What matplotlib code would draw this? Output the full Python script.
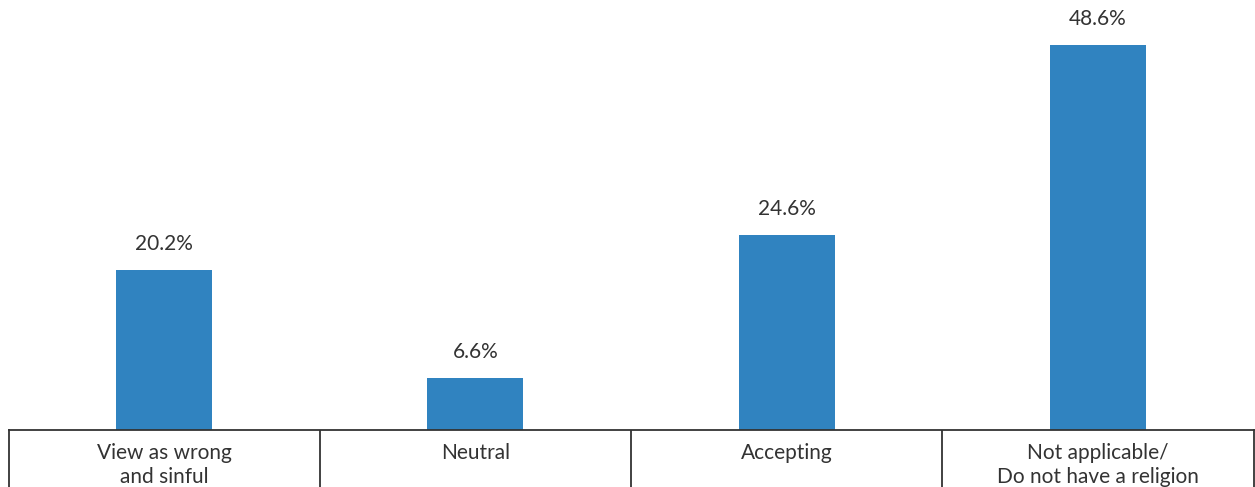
import matplotlib.pyplot as plt
import numpy as np

categories = ['View as wrong\nand sinful', 'Neutral', 'Accepting', 'Not applicable/\nDo not have a religion']
values = [20.2, 6.6, 24.6, 48.6]
value_labels = ['20.2%', '6.6%', '24.6%', '48.6%']

W, H = 1255, 487
bar_color = '#3083C0'
text_color = '#333333'
line_color = '#333333'

plt.rcParams['font.family'] = ['Lato', 'DejaVu Sans']

fig = plt.figure(figsize=(W / 100, H / 100), dpi=100)

# main bar area: x 8..1253 px, y 0..430 px from top
left, width = 8.5 / W, 1245 / W
ax = fig.add_axes([left, (H - 430) / H, width, 430 / H])
x = np.arange(len(categories))
ax.bar(x, values, width=0.309, color=bar_color)
for xi, v, lab in zip(x, values, value_labels):
    ax.annotate(lab, (xi, v), xytext=(0, 14.4), textcoords='offset points',
                ha='center', va='baseline', fontsize=15, color=text_color)
ax.set_xlim(-0.5, len(categories) - 0.5)
ax.set_ylim(0, 54.3)
ax.axis('off')

# category table under the bars
tab = fig.add_axes([left, -20 / H, width, 77 / H])
tab.set_xlim(-0.5, len(categories) - 0.5)
tab.set_ylim(0, 77)
for s in ['left', 'right', 'top']:
    tab.spines[s].set_color(line_color)
    tab.spines[s].set_linewidth(1.3)
tab.spines['bottom'].set_visible(False)
tab.set_xticks([])
tab.set_yticks([])
for xi in x[:-1]:
    tab.axvline(xi + 0.5, color=line_color, lw=1.3)
for xi, cat in zip(x, categories):
    tab.text(xi, 64, cat, ha='center', va='top', fontsize=15,
             color=text_color, linespacing=1.25)

fig.savefig('out.png', dpi=100)
